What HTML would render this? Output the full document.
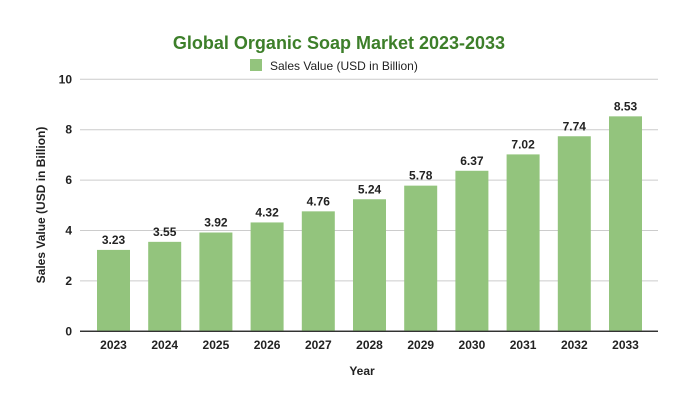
<!DOCTYPE html>
<html><head><meta charset="utf-8"><style>
body{margin:0;background:#fff;}
svg text{font-family:"Liberation Sans",Arial,sans-serif;}
</style></head><body>
<svg width="679" height="407" viewBox="0 0 679 407">
<rect width="679" height="407" fill="#fff"/>
<text x="339" y="49" text-anchor="middle" font-size="18" font-weight="bold" fill="#3d7f2a">Global Organic Soap Market 2023-2033</text>
<g>
<rect x="250" y="59" width="12" height="12" fill="#93c47d"/>
<text x="270" y="70" font-size="12" fill="#222">Sales Value (USD in Billion)</text>
</g>
<g id="grid"></g>
<g id="bars"></g>
<text x="0" y="0" transform="translate(45,205) rotate(-90)" text-anchor="middle" font-size="12" font-weight="bold" fill="#222">Sales Value (USD in Billion)</text>
<text x="362" y="375" text-anchor="middle" font-size="12" font-weight="bold" fill="#222">Year</text>
</svg>
<script>
const categories=["2023","2024","2025","2026","2027","2028","2029","2030","2031","2032","2033"];
const values=[3.23,3.55,3.92,4.32,4.76,5.24,5.78,6.37,7.02,7.74,8.53];
const valueLabels=["3.23","3.55","3.92","4.32","4.76","5.24","5.78","6.37","7.02","7.74","8.53"];
const yTicks=[0,2,4,6,8,10];
const NS="http://www.w3.org/2000/svg";
const y0=331.3,yTop=79.3,yMax=10,left=80,right=658;
function yS(v){return y0-(v/yMax)*(y0-yTop);}
function xC(i){return 113.5+i*51.2;}
const bw=33;
function mk(t,a,p){const e=document.createElementNS(NS,t);for(const k in a)e.setAttribute(k,a[k]);p.appendChild(e);return e;}
const g=document.getElementById('grid'),b=document.getElementById('bars');
yTicks.forEach(t=>{
 const l=mk('line',{x1:left,x2:right,y1:yS(t),y2:yS(t),stroke:t===0?'#333':'#ccc','stroke-width':t===0?1.3:1},g);
 
 
 const tx=mk('text',{x:72,y:yS(t)+4,'text-anchor':'end','font-size':12,'font-weight':'bold',fill:'#222'},g);
 tx.textContent=t;
 
 
});
categories.forEach((c,i)=>{
 const r=mk('rect',{x:xC(i)-bw/2,y:yS(values[i]),width:bw,height:y0-yS(values[i]),fill:'#93c47d'},b);
 
 
 const v=mk('text',{x:xC(i),y:yS(values[i])-6,'text-anchor':'middle','font-size':12,'font-weight':'bold',fill:'#222'},b);
 v.textContent=valueLabels[i];
 
 
 const xl=mk('text',{x:xC(i),y:349,'text-anchor':'middle','font-size':12,'font-weight':'bold',fill:'#222'},b);
 xl.textContent=c;
 
 
});
// redraw baseline on top
const base=mk('line',{x1:left,x2:right,y1:y0,y2:y0,stroke:'#333','stroke-width':1.3},b);


</script>
</body></html>
